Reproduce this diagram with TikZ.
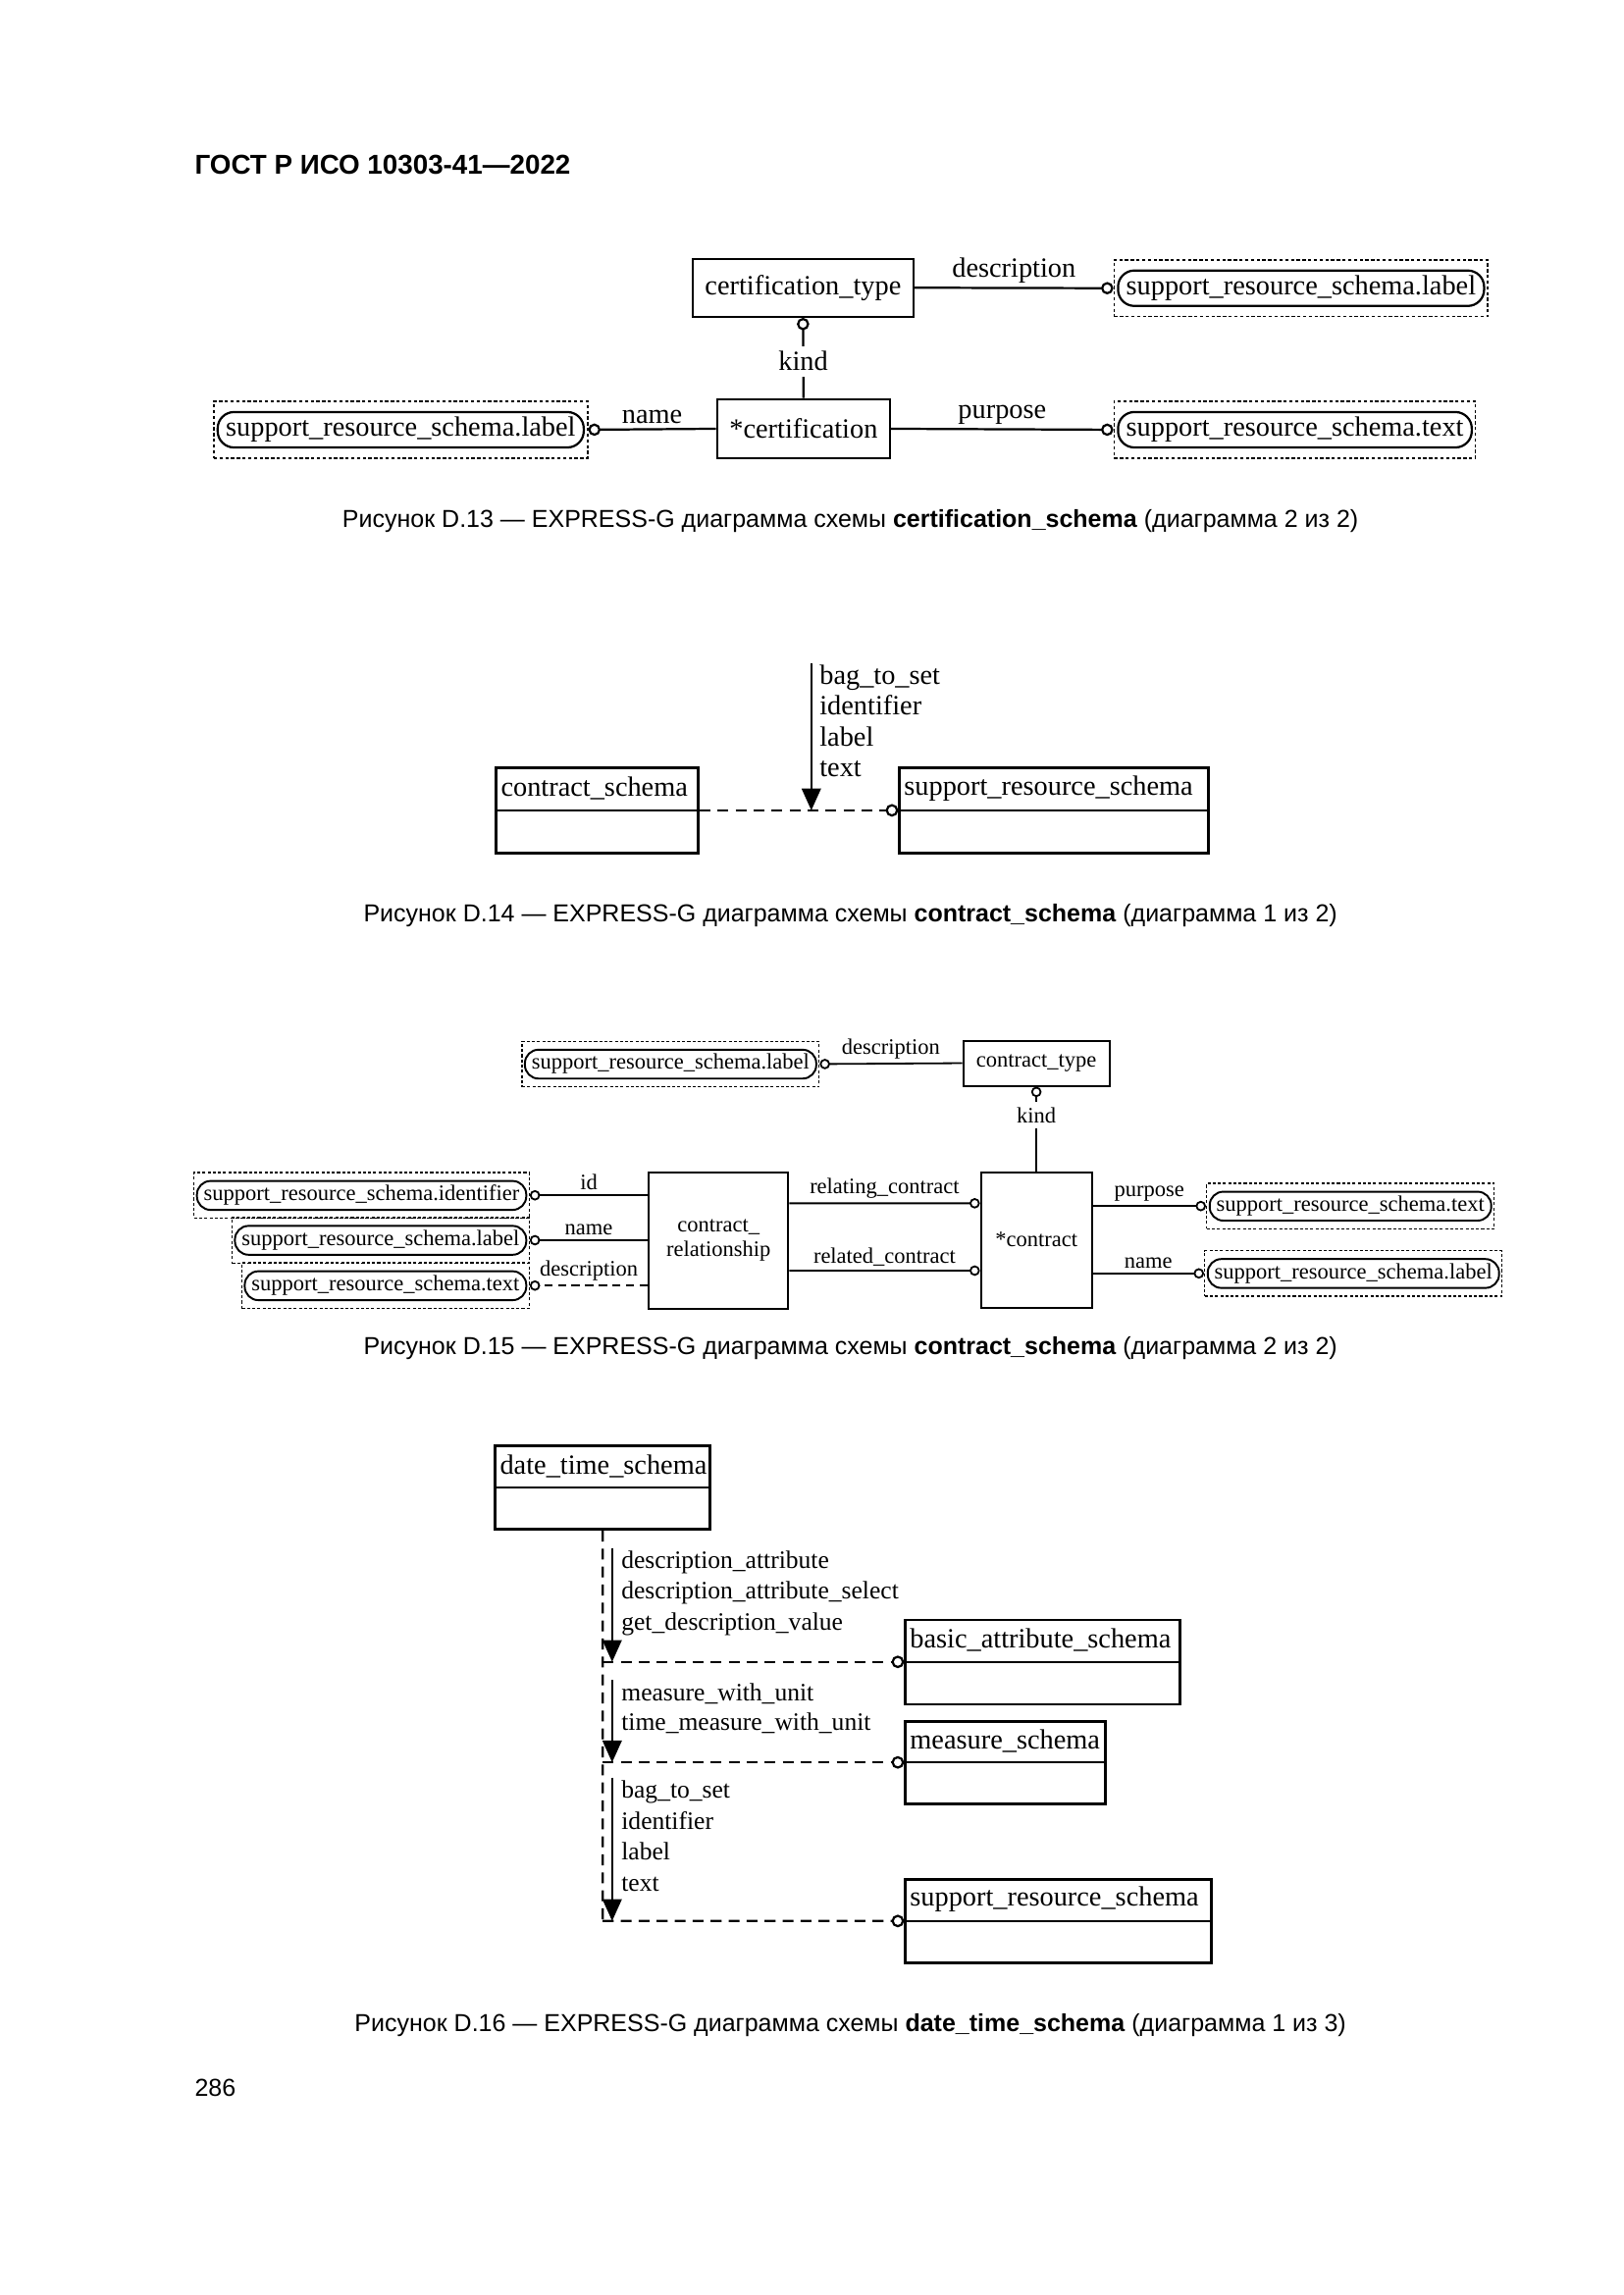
\documentclass[tikz,border=0pt]{standalone}
\usepackage{fontspec}
\setmainfont{Liberation Serif}
\newfontfamily\capfont{Liberation Sans}
\usetikzlibrary{arrows.meta,fit,calc}
\begin{document}
\begin{tikzpicture}[x=0.36pt,y=-0.36pt,
  font=\fontsize{10.2}{12}\selectfont,
  ent/.style={draw, line width=0.9pt, inner sep=0pt},
  ent15/.style={draw, line width=0.75pt, inner sep=0pt},
  divline/.style={line width=0.9pt},
  ibox/.style={draw, line width=0.8pt, rounded corners=6pt, minimum height=13pt, inner xsep=3pt, inner ysep=0pt},
  obox/.style={draw, line width=0.55pt, dash pattern=on 1.2pt off 0.9pt, inner xsep=1pt, inner ysep=3.5pt},
  ibox15/.style={draw, line width=0.7pt, rounded corners=5pt, minimum height=10.6pt, inner xsep=2.5pt, inner ysep=0pt},
  obox15/.style={draw, line width=0.5pt, dash pattern=on 1.1pt off 0.8pt, inner xsep=0.7pt, inner ysep=2.7pt},
  rel/.style={line width=0.8pt, -{Circle[open,length=4.5pt,width=4.5pt]}},
  rel15/.style={line width=0.65pt, -{Circle[open,length=3.8pt,width=3.8pt]}},
  dep/.style={line width=0.8pt, dash pattern=on 4pt off 2.6pt, -{Circle[open,length=4.6pt,width=4.6pt]}},
  dashv/.style={line width=0.8pt, dash pattern=on 4pt off 2.6pt},
  imp/.style={line width=0.8pt, -{Triangle[length=8pt,width=7pt]}},
  lab/.style={midway, above, inner sep=1.5pt},
  klab/.style={fill=white, inner xsep=1pt, inner ysep=2pt},
  lst/.style={anchor=base west, inner sep=0pt},
  lst16/.style={anchor=base west, inner sep=0pt, font=\fontsize{9.2}{11}\selectfont},
  sname/.style={anchor=west, inner sep=2pt},
  figcap/.style={font=\capfont\fontsize{9}{11}\selectfont, inner sep=0pt},
  hdr/.style={font=\capfont\bfseries\fontsize{10}{12}\selectfont, inner sep=0pt}
]
\useasboundingbox (0,0) rectangle (1654,2339);

\begin{scope}[shift={(-1,1.3)}, xscale=0.995, yscale=0.9947]
% header
\node[hdr, anchor=base west] (hdr) at (200,177) {ГОСТ Р ИСО 10303-41—2022};

% ---------------- D.13 ----------------
\node[ent, minimum width=225*0.36pt, minimum height=59*0.36pt] (ct) at (823.5,293.5) {certification\_type};
\node[ent, minimum width=176*0.36pt, minimum height=60*0.36pt] (cert) at (824,438) {*certification};
\node[ibox, anchor=west] (r1i) at (1145,294) {support\_resource\_schema.label};
\node[obox, fit=(r1i)] (r1) {};
\node[ibox, anchor=east] (l1i) at (600,439) {support\_resource\_schema.label};
\node[obox, fit=(l1i)] (l1) {};
\node[ibox, anchor=west] (r2i) at (1145,439) {support\_resource\_schema.text};
\node[obox, fit=(r2i)] (r2) {};
\draw[rel] (ct.east) -- node[lab] {description} (r1.west);
\draw[rel] (cert.west) -- node[lab] {name} (l1.east);
\draw[rel] (cert.east) -- node[lab] {purpose} (r2.west);
\draw[rel] (cert.north) -- node[klab, pos=0.46] {kind} (ct.south);
\node[figcap] (c13) at (872,533) {Рисунок D.13 — EXPRESS-G диаграмма схемы \textbf{certification\_schema} (диаграмма 2 из 2)};

% ---------------- D.14 ----------------
\node[ent, minimum width=206*0.36pt, minimum height=87*0.36pt, anchor=north west] (cs) at (508,784) {};
\draw[divline] (cs.west) -- (cs.east);
\node[sname] (csl) at ($(cs.north west)!0.5!(cs.west)$) {contract\_schema};
\node[ent, minimum width=315*0.36pt, minimum height=87*0.36pt, anchor=north west] (srs) at (921,784) {};
\draw[divline] (srs.west) -- (srs.east);
\node[sname] (srsl) at ($(srs.north west)!0.5!(srs.west)$) {support\_resource\_schema};
\draw[dep] (cs.east) -- (srs.west);
\coordinate (a14) at (832,678);
\draw[imp] (a14) -- (a14 |- cs.east);
\node[lst] (t14a) at (840,700) {bag\_to\_set};
\node[lst] (t14b) at (840,731) {identifier};
\node[lst] (t14c) at (840,763) {label};
\node[lst] (t14d) at (840,794) {text};
\node[figcap] (c14) at (872,937) {Рисунок D.14 — EXPRESS-G диаграмма схемы \textbf{contract\_schema} (диаграмма 1 из 2)};

% ---------------- D.15 ----------------
\begin{scope}[font=\fontsize{8.1}{9.3}\selectfont]
\node[ibox15, anchor=east] (t1i) at (838,1089) {support\_resource\_schema.label};
\node[obox15, fit=(t1i)] (t1) {};
\node[ent15, minimum width=149*0.36pt, minimum height=46*0.36pt] (ctype) at (1062.5,1088) {contract\_type};
\draw[rel15] (ctype.west) -- node[lab] {description} (t1.east);
\node[ent15, minimum width=113*0.36pt, minimum height=138*0.36pt] (ctr) at (1062.5,1269) {*contract};
\draw[rel15] (ctr.north) -- node[klab, pos=0.66] {kind} (ctype.south);
\node[ent15, minimum width=142*0.36pt, minimum height=139*0.36pt, align=center] (crel) at (737,1269.5) {contract\_\\relationship};
\draw[rel15] ($(crel.north east)+(0,33)$) -- node[lab] {relating\_contract} ($(ctr.north west)+(0,33)$);
\draw[rel15] ($(crel.north east)+(0,102)$) -- node[lab] {related\_contract} ($(ctr.north west)+(0,102)$);
\node[ibox15, anchor=west] (p1i) at (1239,1234.5) {support\_resource\_schema.text};
\node[obox15, fit=(p1i)] (p1) {};
\node[ibox15, anchor=west] (n1i) at (1237,1303.5) {support\_resource\_schema.label};
\node[obox15, fit=(n1i)] (n1) {};
\draw[rel15] (ctr.east |- p1.west) -- node[lab] {purpose} (p1.west);
\draw[rel15] (ctr.east |- n1.west) -- node[lab] {name} (n1.west);
\node[ibox15, anchor=east] (s1i) at (541,1223.5) {support\_resource\_schema.identifier};
\node[obox15, fit=(s1i)] (s1) {};
\node[ibox15, anchor=east] (s2i) at (541,1269.5) {support\_resource\_schema.label};
\node[obox15, fit=(s2i)] (s2) {};
\node[ibox15, anchor=east] (s3i) at (541,1316) {support\_resource\_schema.text};
\node[obox15, fit=(s3i)] (s3) {};
\draw[rel15] (crel.west |- s1.east) -- node[lab] {id} (s1.east);
\draw[rel15] (crel.west |- s2.east) -- node[lab] {name} (s2.east);
\draw[rel15, dash pattern=on 3pt off 2pt] (crel.west |- s3.east) -- node[lab] {description} (s3.east);
\end{scope}
\node[figcap] (c15) at (872,1380) {Рисунок D.15 — EXPRESS-G диаграмма схемы \textbf{contract\_schema} (диаграмма 2 из 2)};

% ---------------- D.16 ----------------
\node[ent, minimum width=219*0.36pt, minimum height=85*0.36pt, anchor=north west] (dts) at (507,1479) {};
\draw[divline] (dts.west) -- (dts.east);
\node[sname] (dtsl) at ($(dts.north west)!0.5!(dts.west)$) {date\_time\_schema};
\node[ent, minimum width=280*0.36pt, minimum height=86*0.36pt, anchor=north west] (bas) at (927,1657) {};
\draw[divline] (bas.west) -- (bas.east);
\node[sname] (basl) at ($(bas.north west)!0.5!(bas.west)$) {basic\_attribute\_schema};
\node[ent, minimum width=204*0.36pt, minimum height=84*0.36pt, anchor=north west] (ms) at (927,1761) {};
\draw[divline] (ms.west) -- (ms.east);
\node[sname] (msl) at ($(ms.north west)!0.5!(ms.west)$) {measure\_schema};
\node[ent, minimum width=312*0.36pt, minimum height=85*0.36pt, anchor=north west] (srs2) at (927,1923) {};
\draw[divline] (srs2.west) -- (srs2.east);
\node[sname] (srs2l) at ($(srs2.north west)!0.5!(srs2.west)$) {support\_resource\_schema};
\coordinate (vend) at (dts.south |- srs2.west);
\draw[dashv] (dts.south) -- (vend);
\draw[dep] (dts.south |- bas.west) -- (bas.west);
\draw[dep] (dts.south |- ms.west) -- (ms.west);
\draw[dep] (vend) -- (srs2.west);
\coordinate (a1) at (628,1585);
\draw[imp] (a1) -- (a1 |- bas.west);
\coordinate (a2) at (628,1720);
\draw[imp] (a2) -- (a2 |- ms.west);
\coordinate (a3) at (628,1820);
\draw[imp] (a3) -- (a3 |- srs2.west);
\node[lst16] (t16a) at (637,1606) {description\_attribute};
\node[lst16] (t16b) at (637,1637) {description\_attribute\_select};
\node[lst16] (t16c) at (637,1669) {get\_description\_value};
\node[lst16] (t16d) at (637,1741) {measure\_with\_unit};
\node[lst16] (t16e) at (637,1772) {time\_measure\_with\_unit};
\node[lst16] (t16f) at (637,1841) {bag\_to\_set};
\node[lst16] (t16g) at (637,1873) {identifier};
\node[lst16] (t16h) at (637,1904) {label};
\node[lst16] (t16i) at (637,1936) {text};
\node[figcap] (c16) at (872,2074) {Рисунок D.16 — EXPRESS-G диаграмма схемы \textbf{date\_time\_schema} (диаграмма 1 из 3)};

\node[figcap, anchor=base west] (pg) at (200,2147) {286};
\end{scope}
\end{tikzpicture}
\end{document}
